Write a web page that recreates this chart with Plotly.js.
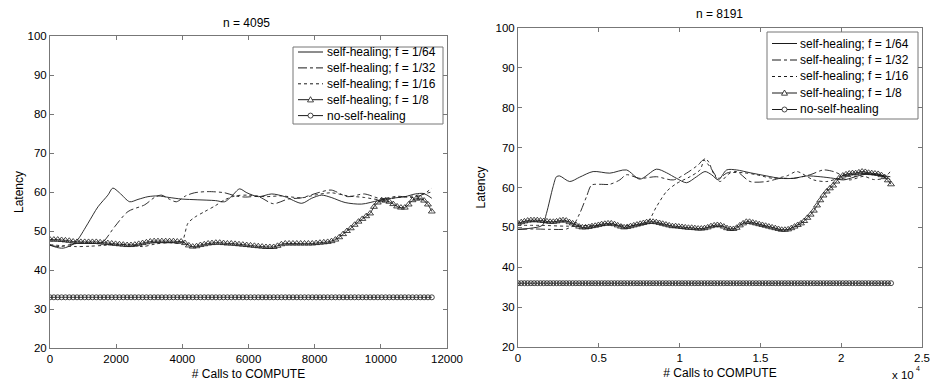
<!DOCTYPE html>
<html>
<head>
<meta charset="utf-8">
<script src="https://cdn.plot.ly/plotly-3.0.1.min.js"></script>
<style>html,body{margin:0;padding:0;background:#fff;}#chart{width:930px;height:381px;}</style>
</head>
<body>
<div id="chart"></div>
<script>
// ---------------- DATA ----------------
const seriesNames = ["self-healing; f = 1/64", "self-healing; f = 1/32", "self-healing; f = 1/16", "self-healing; f = 1/8", "no-self-healing"];
const titleLeft = "n = 4095";
const titleRight = "n = 8191";
const xTitle = "# Calls to COMPUTE";
const yTitle = "Latency";

// Left panel (n = 4095)
const leftStep = 116.57; // calls between sampled points
const left64X = [0, 200, 400, 700, 850, 1150, 1450, 1750, 1900, 2100, 2410, 2660, 2960, 3265, 3600, 3970, 4470, 5000, 5280, 5500, 5730, 5950, 6300, 6700, 7100, 7610, 7910, 8210, 8500, 8920, 9420, 9925, 10330, 10730, 11040, 11300, 11540];
const left64Y = [46.4, 45.8, 45.6, 46.6, 47.9, 52.0, 56.2, 59.2, 61.0, 59.8, 57.5, 58.1, 58.8, 59.0, 58.6, 58.2, 58.0, 57.8, 57.5, 59.0, 60.8, 59.8, 58.8, 59.5, 58.8, 57.1, 58.4, 59.2, 58.6, 57.3, 56.9, 57.8, 58.4, 58.8, 59.5, 59.6, 58.4];
const left32X = [0, 300, 600, 1000, 1400, 1600, 1955, 2360, 2860, 3160, 3370, 3600, 3820, 4100, 4370, 4780, 5280, 5600, 5900, 6300, 6750, 7200, 7600, 8100, 8500, 9000, 9500, 10000, 10500, 11000, 11300, 11540];
const left32Y = [46.3, 46.0, 46.5, 47.0, 46.8, 47.2, 51.1, 55.0, 56.7, 58.6, 59.2, 58.2, 57.5, 59.0, 59.8, 60.1, 59.8, 59.0, 58.7, 58.8, 57.0, 58.2, 58.5, 59.8, 60.5, 58.8, 59.5, 58.3, 58.9, 58.6, 59.5, 61.0];
const left16X = [0, 400, 800, 1200, 1600, 2000, 2400, 2800, 3200, 3600, 3970, 4170, 4370, 4680, 4980, 5280, 5600, 6000, 6500, 7000, 7600, 8000, 8500, 9000, 9500, 10000, 10500, 11000, 11540];
const left16Y = [46.5, 46.2, 46.0, 46.1, 46.3, 46.6, 46.5, 46.0, 46.7, 47.0, 47.0, 52.0, 53.5, 55.0, 56.4, 58.0, 59.0, 59.2, 58.8, 59.0, 58.5, 59.2, 59.8, 59.0, 58.6, 58.0, 58.6, 59.0, 60.0];
const left8Y = [
  47.8,47.8,47.8,47.7,47.6, 47.5,47.3,47.2,47.2,47.2,
  47.2,47.2,47.2,47.1,47.0, 46.9,46.8,46.7,46.6,46.5,
  46.4,46.4,46.5,46.7,46.9, 47.1,47.3,47.4,47.4,47.4,
  47.4,47.4,47.4,47.3,47.3, 46.9,46.3,46.0,46.1,46.4,
  46.6,46.8,46.9,47.0,47.0, 46.9,46.8,46.8,46.7,46.6,
  46.5,46.4,46.3,46.2,46.1, 46.0,45.9,45.9,45.9,46.2,
  46.6,46.8,46.8,46.8,46.8, 46.8,46.8,46.8,46.8,46.9,
  47.0,47.1,47.2,47.4,47.8, 48.4,49.2,50.0,50.7,51.6,
  52.4,53.1,53.8,54.5,56.2, 57.3,57.9,57.8,57.5,56.9,
  56.3,56.0,56.0,56.8,57.9, 58.3,58.4,57.8,56.8,55.0];
const leftNoY = [
  33,33,33,33,33,33,33,33,33,33, 33,33,33,33,33,33,33,33,33,33,
  33,33,33,33,33,33,33,33,33,33, 33,33,33,33,33,33,33,33,33,33,
  33,33,33,33,33,33,33,33,33,33, 33,33,33,33,33,33,33,33,33,33,
  33,33,33,33,33,33,33,33,33,33, 33,33,33,33,33,33,33,33,33,33,
  33,33,33,33,33,33,33,33,33,33, 33,33,33,33,33,33,33,33,33,33];
const leftXTicks = [0, 2000, 4000, 6000, 8000, 10000, 12000];
const leftXTickText = ["0", "2000", "4000", "6000", "8000", "10000", "12000"];

// Right panel (n = 8191)
const rightStep = 199;
const right64X = [0, 800, 1500, 1760, 2170, 2380, 2580, 3200, 3820, 4650, 5680, 6710, 7540, 8570, 9190, 9810, 10430, 11050, 11570, 11980, 12400, 12910, 13530, 14360, 15390, 16220, 17050, 17870, 18700, 19520, 20140, 20800, 21500, 22200, 23040];
const right64Y = [49.5, 49.8, 50.5, 53.5, 60.2, 62.7, 62.9, 61.5, 62.6, 64.0, 63.6, 64.4, 62.1, 64.6, 63.7, 62.3, 61.2, 62.7, 64.0, 63.2, 61.9, 64.4, 64.4, 63.7, 62.9, 62.3, 62.3, 62.9, 62.7, 62.3, 61.9, 62.6, 63.4, 63.2, 62.7];
const right32X = [0, 1000, 2000, 3000, 3410, 3820, 4240, 4550, 5060, 5680, 6300, 6710, 7540, 8570, 9610, 10430, 11160, 11470, 11880, 12400, 12910, 13530, 14360, 15390, 16220, 17050, 18080, 18900, 19520, 20140, 20800, 21500, 22200, 23040];
const right32Y = [49.5, 49.6, 49.5, 49.6, 50.5, 53.5, 57.7, 60.6, 60.8, 60.8, 61.9, 63.2, 62.3, 62.7, 61.9, 63.6, 65.7, 66.9, 65.2, 62.3, 63.6, 64.0, 61.5, 61.5, 62.3, 62.3, 63.2, 64.4, 64.0, 63.0, 62.8, 63.3, 63.2, 62.0];
const right16X = [0, 1500, 3000, 4500, 6000, 7000, 7950, 8570, 9190, 9810, 10640, 11260, 11570, 11800, 12090, 12500, 13120, 13950, 14770, 15800, 16630, 17250, 18290, 19110, 19900, 20560, 21400, 22000, 22600, 23040];
const right16Y = [50.5, 50.5, 50.3, 50.5, 50.6, 50.5, 51.0, 55.2, 59.0, 61.0, 62.7, 64.4, 67.3, 66.4, 63.6, 61.5, 63.6, 63.7, 63.2, 62.3, 62.9, 64.0, 61.9, 61.5, 62.3, 61.9, 62.8, 62.0, 62.3, 64.0];
const right8Y = [
  51.0,51.3,51.5,51.7,51.8,51.8,51.8,51.7,51.6,51.5,
  51.4,51.4,51.5,51.7,51.8,51.7,51.3,51.0,50.6,50.2,
  50.0,50.0,50.1,50.3,50.4,50.6,50.8,50.9,51.0,51.0,
  50.8,50.5,50.2,50.0,50.1,50.3,50.5,50.7,50.9,51.1,
  51.3,51.4,51.4,51.3,51.1,50.9,50.7,50.5,50.3,50.3,
  50.2,50.1,50.0,49.9,49.9,49.8,49.7,49.7,49.8,50.0,
  50.3,50.5,50.6,50.5,50.2,49.8,49.6,49.6,49.9,50.5,
  51.0,51.4,51.4,51.2,51.0,50.8,50.6,50.4,50.2,50.0,
  49.8,49.6,49.4,49.4,49.5,49.8,50.2,50.6,51.0,51.6,
  52.4,53.2,54.2,55.5,56.8,58.0,59.0,59.8,60.5,61.5,
  62.5,63.0,63.3,63.5,63.6,63.6,63.8,64.0,63.9,63.7,
  63.6,63.5,63.4,63.1,62.6,61.8,60.8];
const rightNoY = [
  36,36,36,36,36,36,36,36,36,36, 36,36,36,36,36,36,36,36,36,36,
  36,36,36,36,36,36,36,36,36,36, 36,36,36,36,36,36,36,36,36,36,
  36,36,36,36,36,36,36,36,36,36, 36,36,36,36,36,36,36,36,36,36,
  36,36,36,36,36,36,36,36,36,36, 36,36,36,36,36,36,36,36,36,36,
  36,36,36,36,36,36,36,36,36,36, 36,36,36,36,36,36,36,36,36,36,
  36,36,36,36,36,36,36,36,36,36, 36,36,36,36,36,36,36];
const rightXTicks = [0, 5000, 10000, 15000, 20000, 25000];
const rightXTickText = ["0", "0.5", "1", "1.5", "2", "2.5"];
const yTicks = [20, 30, 40, 50, 60, 70, 80, 90, 100];

// ---------------- BUILD ----------------
const W = 930, H = 381;
const px = v => v / W;
const py = v => 1 - v / H;
const idx = (arr, step) => arr.map((_, i) => i * step);
const FONT = "Liberation Sans, Arial, Helvetica, sans-serif";
const LC = "#1a1a1a";
const styles = [
  {dash: "solid", sym: null}, {dash: "dashdot", sym: null}, {dash: "dot", sym: null},
  {dash: "solid", sym: "triangle"}, {dash: "solid", sym: "circle"}
];

function lineTrace(x, y, dash, name, xa, ya) {
  return {x, y, type: "scatter", mode: "lines", name, xaxis: xa, yaxis: ya, showlegend: false,
    line: {color: LC, width: 0.9, dash, shape: "spline", smoothing: 0.8}};
}
function markTrace(x, y, symbol, size, name, xa, ya) {
  return {x, y, type: "scatter", mode: "lines+markers", name, xaxis: xa, yaxis: ya, showlegend: false,
    line: {color: LC, width: 0.9, shape: "spline", smoothing: 0.6},
    marker: {symbol, size, color: LC, line: {color: LC, width: 0.8}}};
}

const traces = [
  lineTrace(left64X, left64Y, "solid", seriesNames[0], "x", "y"),
  lineTrace(left32X, left32Y, "dashdot", seriesNames[1], "x", "y"),
  lineTrace(left16X, left16Y, "dot", seriesNames[2], "x", "y"),
  markTrace(idx(left8Y, leftStep), left8Y, "triangle-up-open", 6, seriesNames[3], "x", "y"),
  markTrace(idx(leftNoY, leftStep), leftNoY, "circle-open", 5, seriesNames[4], "x", "y"),
  lineTrace(right64X, right64Y, "solid", seriesNames[0], "x2", "y2"),
  lineTrace(right32X, right32Y, "dashdot", seriesNames[1], "x2", "y2"),
  lineTrace(right16X, right16Y, "dot", seriesNames[2], "x2", "y2"),
  markTrace(idx(right8Y, rightStep), right8Y, "triangle-up-open", 6, seriesNames[3], "x2", "y2"),
  markTrace(idx(rightNoY, rightStep), rightNoY, "circle-open", 5, seriesNames[4], "x2", "y2")
];

// custom legends (box, samples, texts) in pixel geometry
const shapes = [], annotations = [];
function buildLegend(box, rowY0, rowStep, sx0, sx1, tx) {
  shapes.push({type: "rect", xref: "paper", yref: "paper", x0: px(box[0]), x1: px(box[1]), y0: py(box[3]), y1: py(box[2]),
    line: {color: "#777", width: 1}, fillcolor: "#fff", layer: "above"});
  seriesNames.forEach((name, i) => {
    const yy = rowY0 + i * rowStep;
    const st = styles[i];
    shapes.push({type: "line", xref: "paper", yref: "paper", x0: px(sx0), x1: px(sx1), y0: py(yy), y1: py(yy),
      line: {color: LC, width: 1, dash: st.dash}, layer: "above"});
    const cx = (sx0 + sx1) / 2;
    if (st.sym === "triangle") {
      const p = `M ${px(cx - 3)} ${py(yy + 2.2)} L ${px(cx + 3)} ${py(yy + 2.2)} L ${px(cx)} ${py(yy - 3)} Z`;
      shapes.push({type: "path", xref: "paper", yref: "paper", path: p, line: {color: LC, width: 0.8}, fillcolor: "#fff", layer: "above"});
    } else if (st.sym === "circle") {
      shapes.push({type: "circle", xref: "paper", yref: "paper", x0: px(cx - 2.5), x1: px(cx + 2.5), y0: py(yy + 2.5), y1: py(yy - 2.5),
        line: {color: LC, width: 0.8}, fillcolor: "#fff", layer: "above"});
    }
    annotations.push({text: name, xref: "paper", yref: "paper", x: px(tx), y: py(yy), xanchor: "left", yanchor: "middle",
      showarrow: false, font: {family: FONT, size: 12, color: "#000"}});
  });
}
buildLegend([293, 443, 47, 124], 52, 15.9, 298, 323, 325);
buildLegend([767, 918, 32, 119], 43.5, 16.5, 772, 797, 798);

annotations.push(
  {text: titleLeft, xref: "paper", yref: "paper", x: px(247), y: py(23), showarrow: false, xanchor: "center", yanchor: "middle", font: {family: FONT, size: 12}},
  {text: titleRight, xref: "paper", yref: "paper", x: px(719), y: py(14), showarrow: false, xanchor: "center", yanchor: "middle", font: {family: FONT, size: 12}},
  {text: "x 10", xref: "paper", yref: "paper", x: px(903), y: py(375), showarrow: false, xanchor: "center", yanchor: "middle", font: {family: FONT, size: 11.5}},
  {text: "4", xref: "paper", yref: "paper", x: px(918), y: py(368), showarrow: false, xanchor: "center", yanchor: "middle", font: {family: FONT, size: 7}}
);

const axisCommon = {
  showgrid: false, zeroline: false, showline: true, mirror: "ticks", linecolor: "#777", linewidth: 1,
  ticks: "inside", ticklen: 4, tickcolor: "#777", tickfont: {family: FONT, size: 11.5, color: "#000"}
};

const layout = {
  width: W, height: H, margin: {l: 0, r: 0, t: 0, b: 0},
  paper_bgcolor: "#fff", plot_bgcolor: "#fff",
  font: {family: FONT, size: 12, color: "#000"},
  xaxis: Object.assign({}, axisCommon, {domain: [px(50), px(447)], range: [0, 12000], tickvals: leftXTicks, ticktext: leftXTickText,
    anchor: "y", title: {text: xTitle, standoff: 5, font: {family: FONT, size: 12}}}),
  yaxis: Object.assign({}, axisCommon, {domain: [py(348), py(36)], range: [20, 100], tickvals: yTicks,
    anchor: "x", title: {text: yTitle, standoff: 1, font: {family: FONT, size: 12}}}),
  xaxis2: Object.assign({}, axisCommon, {domain: [px(518), px(922)], range: [0, 25000], tickvals: rightXTicks, ticktext: rightXTickText,
    anchor: "y2", title: {text: xTitle, standoff: 5, font: {family: FONT, size: 12}}}),
  yaxis2: Object.assign({}, axisCommon, {domain: [py(347), py(28)], range: [20, 100], tickvals: yTicks,
    anchor: "x2", title: {text: yTitle, standoff: 7, font: {family: FONT, size: 12}}}),
  shapes, annotations
};

Plotly.newPlot("chart", traces, layout, {displayModeBar: false, staticPlot: true});
</script>
</body>
</html>
